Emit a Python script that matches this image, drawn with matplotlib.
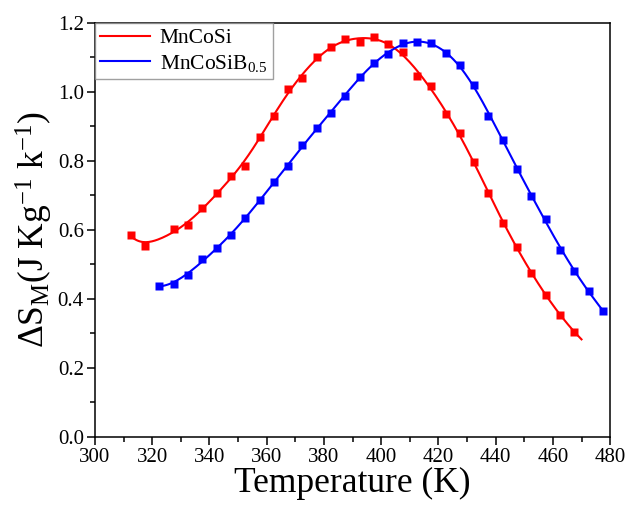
import numpy as np
import matplotlib
matplotlib.use("Agg")
import matplotlib.pyplot as plt
from matplotlib.ticker import MultipleLocator, FormatStrFormatter

plt.rcParams['font.family'] = ['Liberation Serif', 'DejaVu Serif']
plt.rcParams['mathtext.fontset'] = 'custom'
plt.rcParams['mathtext.rm'] = 'Liberation Serif'
plt.rcParams['mathtext.it'] = 'Liberation Serif:italic'

# data
t_mncosi = [312.5, 317.5, 327.5, 332.5, 337.5, 342.5, 347.5, 352.5, 357.5, 362.5,
            367.5, 372.5, 377.5, 382.5, 387.5, 392.5, 397.5, 402.5, 407.5, 412.5,
            417.5, 422.5, 427.5, 432.5, 437.5, 442.5, 447.5, 452.5, 457.5, 462.5, 467.5]
ds_mncosi = [0.585, 0.553, 0.602, 0.614, 0.663, 0.708, 0.757, 0.786, 0.870, 0.931,
             1.009, 1.040, 1.101, 1.130, 1.153, 1.144, 1.158, 1.139, 1.117, 1.047,
             1.018, 0.935, 0.880, 0.796, 0.706, 0.619, 0.550, 0.474, 0.412, 0.354, 0.305]

t_mncosib = [322.5, 327.5, 332.5, 337.5, 342.5, 347.5, 352.5, 357.5, 362.5, 367.5,
             372.5, 377.5, 382.5, 387.5, 392.5, 397.5, 402.5, 407.5, 412.5, 417.5,
             422.5, 427.5, 432.5, 437.5, 442.5, 447.5, 452.5, 457.5, 462.5, 467.5,
             472.5, 477.5]
ds_mncosib = [0.438, 0.444, 0.469, 0.515, 0.547, 0.585, 0.634, 0.686, 0.739, 0.786,
              0.846, 0.894, 0.940, 0.988, 1.044, 1.085, 1.109, 1.141, 1.146, 1.141,
              1.112, 1.078, 1.020, 0.931, 0.861, 0.776, 0.697, 0.632, 0.542, 0.482,
              0.424, 0.365]


def fit_curve(t, y, t_end, bw=8.5):
    # local quadratic (loess-like) smoothing of the measured points
    t = np.asarray(t, float)
    y = np.asarray(y, float)
    tt = np.linspace(t[0], t_end, 300)
    out = np.empty_like(tt)
    for i, x0 in enumerate(tt):
        w = np.exp(-0.5 * ((t - x0) / bw) ** 2)
        p = np.polyfit(t - x0, y, 2, w=np.sqrt(w))
        out[i] = p[-1]
    return tt, out


fig = plt.figure(figsize=(6.29, 5.09), dpi=100)
ax = fig.add_axes([0.151, 0.1415, 0.819, 0.8135])

tr, yr = fit_curve(t_mncosi, ds_mncosi, 470.0)
tb, yb = fit_curve(t_mncosib, ds_mncosib, 477.5)

ax.plot(tr, yr, color='#ff0000', lw=1.5, label='MnCoSi')
ax.plot(tb, yb, color='#0000ff', lw=1.5, label=r'MnCoSiB$_{\mathregular{0.5}}$')
ax.plot(t_mncosi, ds_mncosi, 's', color='#ff0000', ms=6.3, mec='none')
ax.plot(t_mncosib, ds_mncosib, 's', color='#0000ff', ms=6.3, mec='none')

ax.set_xlim(300, 480)
ax.set_ylim(0, 1.2)
ax.xaxis.set_major_locator(MultipleLocator(20))
ax.xaxis.set_minor_locator(MultipleLocator(10))
ax.yaxis.set_major_locator(MultipleLocator(0.2))
ax.yaxis.set_minor_locator(MultipleLocator(0.1))
ax.yaxis.set_major_formatter(FormatStrFormatter('%.1f'))
ax.tick_params(which='major', direction='out', length=6, width=1.1, labelsize=15,
               top=False, right=False, pad=2)
ax.tick_params(which='minor', direction='out', length=3.5, width=1.1,
               top=False, right=False)
for s in ax.spines.values():
    s.set_linewidth(1.1)

ax.set_xlabel('Temperature (K)', fontsize=25.5, labelpad=0)
ax.set_ylabel(r'$\Delta$S$_{\mathregular{M}}$(J Kg$^{\mathregular{-1}}$ k$^{\mathregular{-1}}$)',
              fontsize=25.5, labelpad=2)

leg = ax.legend(loc='upper left', fontsize=15.5, frameon=True, fancybox=False,
                borderaxespad=0, handlelength=2.3, handletextpad=0.45,
                borderpad=0.25, labelspacing=0.2)
leg.get_frame().set_edgecolor('#888888')
leg.get_frame().set_linewidth(1.0)

fig.savefig('out.png', dpi=100)
